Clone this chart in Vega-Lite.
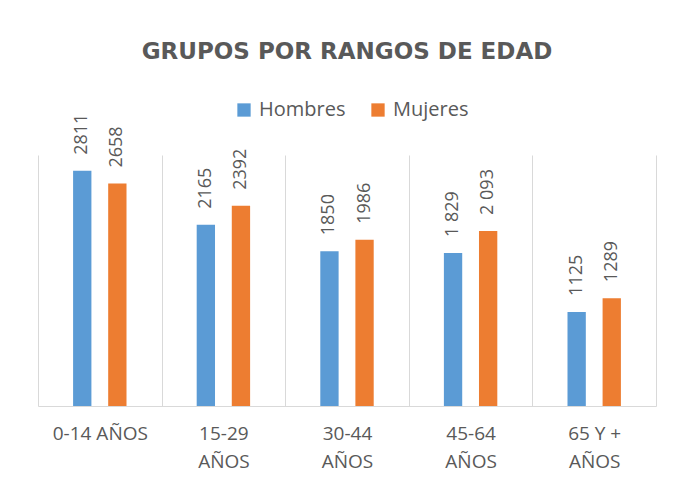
{
  "$schema": "https://vega.github.io/schema/vega-lite/v6.json",
  "autosize": {"type": "none"},
  "width": 618,
  "height": 251,
  "padding": {"left": 38, "top": 155, "right": 24, "bottom": 81},
  "background": "white",
  "title": {
    "text": "GRUPOS POR RANGOS DE EDAD",
    "anchor": "middle",
    "frame": "group",
    "baseline": "alphabetic",
    "offset": 18,
    "font": "DejaVu Sans",
    "fontSize": 23,
    "fontWeight": "bold",
    "color": "#595959"
  },
  "data": {
    "values": [
      {"grupo": "0-14 AÑOS", "sexo": "Hombres", "valor": 2811, "etiqueta": "2811"},
      {"grupo": "0-14 AÑOS", "sexo": "Mujeres", "valor": 2658, "etiqueta": "2658"},
      {"grupo": "15-29 AÑOS", "sexo": "Hombres", "valor": 2165, "etiqueta": "2165"},
      {"grupo": "15-29 AÑOS", "sexo": "Mujeres", "valor": 2392, "etiqueta": "2392"},
      {"grupo": "30-44 AÑOS", "sexo": "Hombres", "valor": 1850, "etiqueta": "1850"},
      {"grupo": "30-44 AÑOS", "sexo": "Mujeres", "valor": 1986, "etiqueta": "1986"},
      {"grupo": "45-64 AÑOS", "sexo": "Hombres", "valor": 1829, "etiqueta": "1 829"},
      {"grupo": "45-64 AÑOS", "sexo": "Mujeres", "valor": 2093, "etiqueta": "2 093"},
      {"grupo": "65 Y + AÑOS", "sexo": "Hombres", "valor": 1125, "etiqueta": "1125"},
      {"grupo": "65 Y + AÑOS", "sexo": "Mujeres", "valor": 1289, "etiqueta": "1289"}
    ]
  },
  "encoding": {
    "x": {
      "field": "grupo",
      "type": "nominal",
      "sort": null,
      "scale": {"paddingInner": 0, "paddingOuter": 0},
      "axis": {
        "title": null,
        "labelAngle": 0,
        "ticks": false,
        "tickBand": "extent",
        "grid": true,
        "gridColor": "#D9D9D9",
        "gridWidth": 1,
        "domainColor": "#D9D9D9",
        "domainWidth": 1,
        "labelFont": "Open Sans",
        "labelFontSize": 19,
        "labelColor": "#595959",
        "labelPadding": 18,
        "labelLineHeight": 28,
        "labelLimit": 0,
        "labelExpr": "!datum.value ? '' : (datum.value === '0-14 AÑOS' ? datum.value : [replace(datum.value, ' AÑOS', ''), 'AÑOS'])"
      }
    },
    "xOffset": {
      "field": "sexo",
      "type": "nominal",
      "sort": ["Hombres", "Mujeres"],
      "scale": {"paddingInner": 0.478, "paddingOuter": 1.169}
    },
    "y": {
      "field": "valor",
      "type": "quantitative",
      "scale": {"domain": [0, 3000]},
      "axis": null
    }
  },
  "layer": [
    {
      "mark": {"type": "bar"},
      "encoding": {
        "color": {
          "field": "sexo",
          "type": "nominal",
          "scale": {"domain": ["Hombres", "Mujeres"], "range": ["#5B9BD5", "#ED7D31"]},
          "legend": {
            "orient": "none",
            "legendX": 196,
            "legendY": -55,
            "direction": "horizontal",
            "title": null,
            "symbolType": "square",
            "symbolSize": 177,
            "symbolStrokeWidth": 0,
            "symbolOpacity": 1,
            "labelFont": "Open Sans",
            "labelFontSize": 20,
            "labelColor": "#595959",
            "labelOffset": 5,
            "columnPadding": 22,
            "padding": 0,
            "labelLimit": 0
          }
        }
      }
    },
    {
      "mark": {
        "type": "text",
        "angle": 270,
        "align": "left",
        "baseline": "middle",
        "dx": 16,
        "font": "Open Sans",
        "fontSize": 18,
        "color": "#595959"
      },
      "encoding": {"text": {"field": "etiqueta"}}
    }
  ],
  "config": {"view": {"stroke": null}}
}
